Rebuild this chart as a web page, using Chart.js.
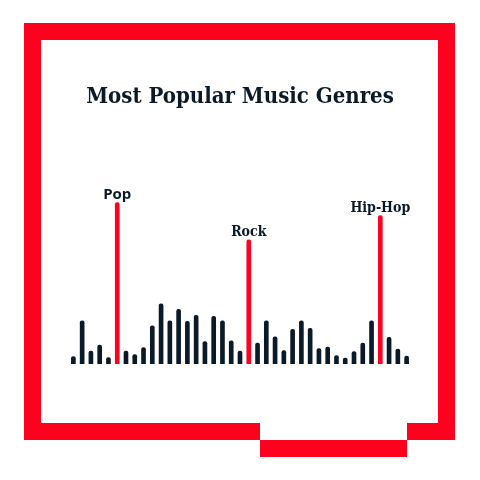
<!DOCTYPE html>
<html>
<head>
<meta charset="utf-8">
<script src="https://cdn.jsdelivr.net/npm/chart.js@4.4.1/dist/chart.umd.min.js"></script>
<style>
    html, body { margin: 0; padding: 0; background: #fff; }
    #wrap { position: relative; width: 480px; height: 480px; overflow: hidden; }
    .frame { position: absolute; background: #ff001e; }
    .gap { position: absolute; background: #fff; }
    #chart { position: absolute; left: 0; top: 0; }
</style>
</head>
<body>
<div id="wrap">
    <!-- red frame with the stepped notch at the bottom -->
    <div class="frame" style="left:24px;top:23px;width:431px;height:17px"></div>
    <div class="frame" style="left:24px;top:23px;width:17px;height:417px"></div>
    <div class="frame" style="left:438px;top:23px;width:17px;height:417px"></div>
    <div class="frame" style="left:24px;top:423px;width:431px;height:17px"></div>
    <div class="gap" style="left:260px;top:423px;width:147px;height:17px"></div>
    <div class="frame" style="left:260px;top:440px;width:147px;height:17px"></div>
    <canvas id="chart" width="480" height="480"></canvas>
</div>
<script>
// ===== Data =====
const genres = [
    'g1', 'g2', 'g3', 'g4', 'g5', 'Pop', 'g7', 'g8', 'g9', 'g10',
    'g11', 'g12', 'g13', 'g14', 'g15', 'g16', 'g17', 'g18', 'g19', 'g20',
    'Rock', 'g22', 'g23', 'g24', 'g25', 'g26', 'g27', 'g28', 'g29', 'g30',
    'g31', 'g32', 'g33', 'g34', 'g35', 'Hip-Hop', 'g37', 'g38', 'g39'
];
const popularity = [
    7.5, 43, 13, 19, 6.5, 161, 13, 9.5, 16.5, 38,
    60, 43, 54.5, 42.5, 48.5, 22.5, 47.5, 43, 23, 13,
    124, 21, 43, 27, 13.5, 34.5, 43, 35.5, 15.5, 17,
    8.5, 6, 12.5, 21, 43, 148, 26.5, 15, 8
];
const highlighted = ['Pop', 'Rock', 'Hip-Hop'];

const RED = '#ff001e';
const INK = '#0b1a28';
const SERIF = '"DejaVu Serif Condensed", "DejaVu Serif", serif';

// ===== Labels above the highlighted bars =====
const genreLabels = {
    id: 'genreLabels',
    afterDatasetsDraw(chart) {
        const { ctx } = chart;
        const meta = chart.getDatasetMeta(0);
        ctx.save();
        ctx.fillStyle = INK;
        ctx.textAlign = 'center';
        ctx.textBaseline = 'alphabetic';
        genres.forEach((g, i) => {
            if (!highlighted.includes(g)) return;
            const bar = meta.data[i];
            ctx.font = g === 'Pop'
                ? 'bold 15px "Open Sans", sans-serif'
                : 'bold 14px ' + SERIF;
            ctx.fillText(g, bar.x, bar.y - 4);
        });
        ctx.restore();
    }
};

new Chart(document.getElementById('chart'), {
    type: 'bar',
    data: {
        labels: genres,
        datasets: [{
            data: popularity,
            backgroundColor: genres.map(g => highlighted.includes(g) ? RED : INK),
            barThickness: 4,
            borderRadius: { topLeft: 2, topRight: 2 },
            borderSkipped: 'start'
        }]
    },
    options: {
        responsive: false,
        animation: false,
        layout: { padding: { top: 83, left: 69, right: 69, bottom: 116 } },
        plugins: {
            legend: { display: false },
            tooltip: { enabled: false },
            title: {
                display: true,
                text: 'Most Popular Music Genres',
                color: INK,
                font: { family: SERIF, size: 22, weight: 'bold', lineHeight: 1.3 },
                padding: { top: 0, bottom: 52 }
            }
        },
        scales: {
            x: { display: false, grid: { display: false } },
            y: { display: false, min: 0, max: 200, grid: { display: false } }
        }
    },
    plugins: [genreLabels]
});
</script>
</body>
</html>
